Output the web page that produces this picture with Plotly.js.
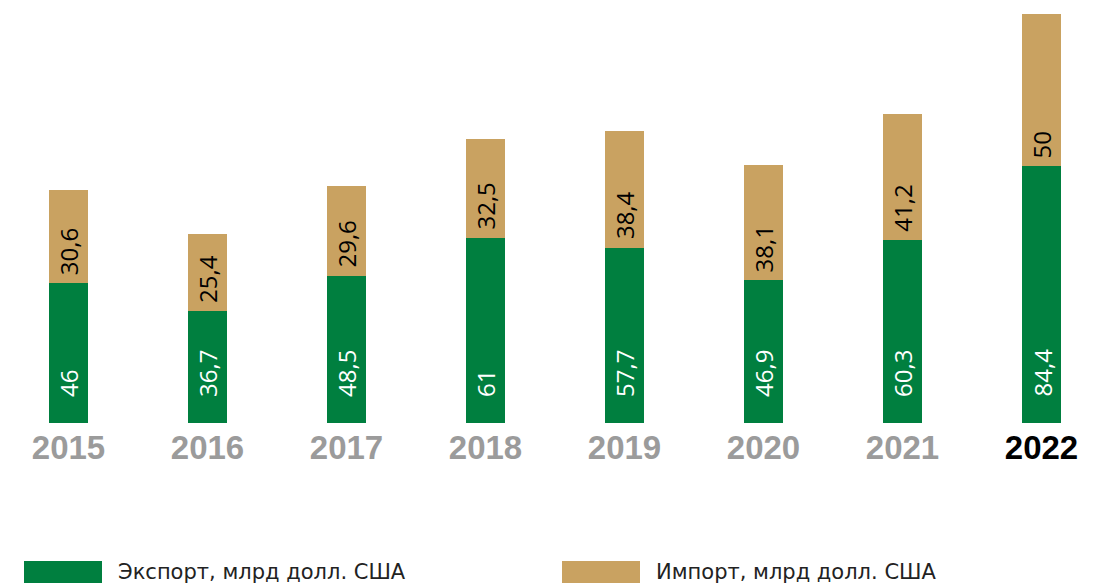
<!DOCTYPE html>
<html>
<head>
<meta charset="utf-8">
<script src="https://cdn.plot.ly/plotly-3.0.1.min.js"></script>
<style>html,body{margin:0;padding:0;background:#fff;}#chart{width:1096px;height:585px;}</style>
</head>
<body>
<div id="chart"></div>
<script>
var years = ['2015','2016','2017','2018','2019','2020','2021','2022'];
var exportVals = [46, 36.7, 48.5, 61, 57.7, 46.9, 60.3, 84.4];
var importVals = [30.6, 25.4, 29.6, 32.5, 38.4, 38.1, 41.2, 50];
var exportLabels = ['46','36,7','48,5','61','57,7','46,9','60,3','84,4'];
var importLabels = ['30,6','25,4','29,6','32,5','38,4','38,1','41,2','50'];
var tickLabels = ['2015','2016','2017','2018','2019','2020','2021','<span style="color:#000000">2022</span>'];
var legendNames = ['Экспорт, млрд долл. США', 'Импорт, млрд долл. США'];

var GREEN = '#007f3f';
var TAN = '#c9a261';
var numFont = 'Open Sans, Noto Sans, sans-serif';

var traces = [
  {type:'bar', x: years, y: exportVals, name: legendNames[0], marker:{color:GREEN}, width:0.28, hoverinfo:'skip'},
  {type:'bar', x: years, y: importVals, name: legendNames[1], marker:{color:TAN}, width:0.28, hoverinfo:'skip'}
];

var annotations = [];
for (var i = 0; i < years.length; i++) {
  // category index i positions the label on the year's bar
  annotations.push({x: i, y: 0, xref:'x', yref:'y', text: exportLabels[i], showarrow:false,
    textangle:-90, xanchor:'center', yanchor:'bottom', yshift:24,
    font:{family:numFont, size:24, color:'#ffffff'}});
  annotations.push({x: i, y: exportVals[i], xref:'x', yref:'y', text: importLabels[i], showarrow:false,
    textangle:-90, xanchor:'center', yanchor:'bottom', yshift:6,
    font:{family:numFont, size:24, color:'#000000'}});
}

// legend drawn as wide swatches + text (paper coordinates)
var legY0 = (423-583)/418, legY1 = (423-561)/418, legYm = (423-572)/418;
var shapes = [
  {type:'rect', xref:'paper', yref:'paper', x0:24/1096, x1:102/1096, y0:legY0, y1:legY1, fillcolor:GREEN, line:{width:0}},
  {type:'rect', xref:'paper', yref:'paper', x0:562/1096, x1:640/1096, y0:legY0, y1:legY1, fillcolor:TAN, line:{width:0}}
];
annotations.push({xref:'paper', yref:'paper', x:116/1096, y:legYm, xanchor:'left', yanchor:'middle', showarrow:false,
  text: legendNames[0], font:{family:'DejaVu Sans, sans-serif', size:21, color:'#222222'}});
annotations.push({xref:'paper', yref:'paper', x:654/1096, y:legYm, xanchor:'left', yanchor:'middle', showarrow:false,
  text: legendNames[1], font:{family:'DejaVu Sans, sans-serif', size:21, color:'#222222'}});

var layout = {
  width:1096, height:585,
  margin:{l:0, r:0, t:5, b:162, pad:0},
  paper_bgcolor:'#ffffff', plot_bgcolor:'#ffffff',
  barmode:'stack',
  showlegend:false,
  xaxis:{type:'category', range:[-68.5/139, (1096-68.5)/139], tickmode:'array', tickvals: years, ticktext: tickLabels,
    showgrid:false, zeroline:false, showline:false, ticks:'', ticklabelstandoff:2,
    tickfont:{family:'Liberation Sans, Arial, sans-serif', size:33, color:'#9b9b9b', weight:'bold'}},
  yaxis:{range:[0, 418/3.04], visible:false, showgrid:false, zeroline:false},
  annotations: annotations,
  shapes: shapes
};

Plotly.newPlot('chart', traces, layout, {staticPlot:true, displayModeBar:false});
</script>
</body>
</html>
